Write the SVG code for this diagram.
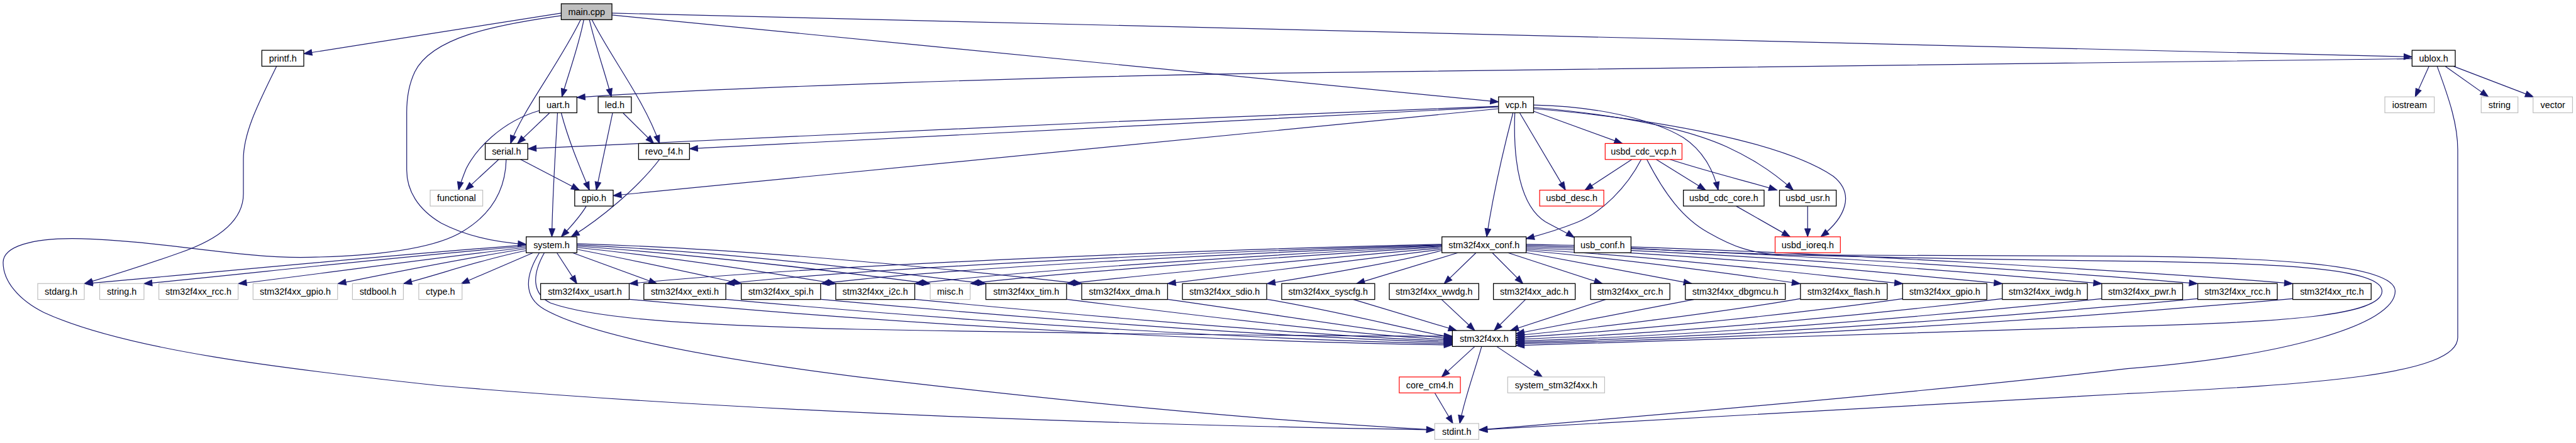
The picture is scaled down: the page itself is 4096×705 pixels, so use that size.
<svg xmlns="http://www.w3.org/2000/svg" width="4096" height="705" viewBox="0 0 4096 705">
<defs>
<style>
.n rect{fill:#fff;stroke:#000;stroke-width:1.3}
.g rect{stroke:#bfbfbf;stroke-width:1.2}
.r rect{stroke:#ff0000;stroke-width:1.2}
.m rect{fill:#bfbfbf}
.n text{font-family:"Liberation Sans",Arial,sans-serif;font-size:14.5px;text-anchor:middle;fill:#000}
.e path{fill:none;stroke:#191970;stroke-width:1.2;marker-end:url(#a)}
</style>
<marker id="a" markerUnits="userSpaceOnUse" markerWidth="16" markerHeight="12" refX="13" refY="4.75" orient="auto" overflow="visible">
<path d="M0,0 L13,4.75 L0,9.5 z" fill="#191970" stroke="#191970" stroke-width="1"/>
</marker>
</defs>
<rect width="4096" height="705" fill="#fff"/>
<g transform="scale(0.9949,0.99436)">
<g id="edges" class="e">
<path d="M897,21 C780,40 600,67 485.5,86"/>
<path d="M897,25 C790,40 690,60 663,115 C652,138 650,160 650,180 L650,272 C650,305 668,335 705,357 C745,378 795,388 841,391"/>
<path d="M928,31.5 C895,100 833,180 816,229.7"/>
<path d="M933,31.5 C926,70 908,120 898,155"/>
<path d="M942,31.5 C952,75 968,120 977,155"/>
<path d="M946,31.5 C975,90 1030,160 1054,229.7"/>
<path d="M978,24 C1450,70 1950,120 2395,163"/>
<path d="M978,21 C2000,45 3000,70 3855,91"/>
<path d="M442,106 C416,160 389,210 389,255 L389,310 C389,355 345,385 286,405 C230,425 175,442 135,454"/>
<path d="M3855,94 L2040,117 C1700,122 1150,140 922,156"/>
<path d="M3882,106 L3860,155"/>
<path d="M3908,106 L3977,155"/>
<path d="M3921,106 L4049,155"/>
<path d="M3895,106 C3915,160 3928,200 3928,240 L3928,540 C3928,600 3700,615 3400,630 C3000,652 2600,676 2364,688"/>
<path d="M862,177 C800,195 760,240 745,270 C739,285 735,295 733,304.3"/>
<path d="M878,181 L827,229.7"/>
<path d="M891,181 C888,240 883,310 882,379"/>
<path d="M897,181 C910,230 930,275 942,304.3"/>
<path d="M979,181 L953,304.3"/>
<path d="M996,181 L1045,229.7"/>
<path d="M797,255.2 L744,304.3"/>
<path d="M832,255.2 L926,304.3"/>
<path d="M809,255.2 C808,300 790,340 740,370 C700,395 620,410 480,412 C380,412 250,385 130,382 C50,380 5,395 5,420 C5,450 30,480 70,500 C200,560 450,590 700,617 C1200,660 1800,680 2293,688"/>
<path d="M862,404.5 C840,440 835,475 870,495 C950,540 1150,575 1370,603 C1700,642 2000,672 2293,688"/>
<path d="M870,404.5 C850,440 850,470 880,485 C950,510 1100,520 1370,527 C1800,535 2100,538 2321,538"/>
<path d="M841,392 C600,410 300,440 135,454"/>
<path d="M841,394 C620,412 380,440 230,454"/>
<path d="M841,396 C700,412 500,440 381,454"/>
<path d="M841,398 C730,415 610,440 540,454"/>
<path d="M841,401 C770,415 700,440 645,454"/>
<path d="M852,404.5 L737,454"/>
<path d="M890,404.5 L922,454"/>
<path d="M915,404.5 L1050,454"/>
<path d="M922,399 C1030,420 1120,440 1185,454"/>
<path d="M922,396 C1100,415 1250,440 1336,454"/>
<path d="M922,394 C1150,410 1380,440 1487,454"/>
<path d="M922,392 C1200,405 1450,440 1576,454"/>
<path d="M922,390 C1250,400 1600,440 1729,454"/>
<path d="M2304,391 C1900,400 1300,425 1006,454"/>
<path d="M2304,392 C1950,402 1400,428 1160,454"/>
<path d="M2304,393 C2000,404 1500,430 1312,454"/>
<path d="M2304,394 C2050,406 1650,432 1462,454"/>
<path d="M2304,395 C2100,408 1700,435 1551,454"/>
<path d="M2304,397 C2150,410 1850,438 1705,454"/>
<path d="M2304,399 C2200,412 1980,440 1866,454"/>
<path d="M2304,401 C2240,418 2100,442 2025,454"/>
<path d="M2330,404.5 L2168,454"/>
<path d="M2359,404.5 L2308,454"/>
<path d="M2385,404.5 L2434,454"/>
<path d="M2410,404.5 L2561,454"/>
<path d="M2438,404 L2704,454"/>
<path d="M2439,401 C2600,415 2780,440 2877,454"/>
<path d="M2439,399 C2650,410 2900,440 3041,454"/>
<path d="M2439,397 C2700,405 3050,440 3200,454"/>
<path d="M2439,395 C2750,402 3200,440 3359,454"/>
<path d="M2439,393 C2800,400 3350,440 3512,454"/>
<path d="M2439,391 C2850,398 3500,440 3664,454"/>
<path d="M1006,479 C1500,525 2000,548 2321,552"/>
<path d="M1160,479 C1600,520 2050,545 2321,550"/>
<path d="M1312,479 C1700,515 2100,542 2321,548"/>
<path d="M1462,479 C1800,512 2150,540 2321,546"/>
<path d="M1705,479 C1950,510 2200,538 2321,544"/>
<path d="M1866,479 C2050,505 2230,535 2321,542"/>
<path d="M2025,479 C2150,500 2260,530 2321,540"/>
<path d="M2163,479.3 L2328,529"/>
<path d="M2304,479.3 L2357,529"/>
<path d="M2438,479.3 L2388,529"/>
<path d="M2566,479.3 L2414,529"/>
<path d="M2707,479.3 L2423,534"/>
<path d="M2877,478 C2750,500 2550,525 2423,537"/>
<path d="M3041,478 C2850,505 2600,530 2423,540"/>
<path d="M3200,478 C2950,508 2650,535 2423,543"/>
<path d="M3359,478 C3050,510 2700,538 2423,546"/>
<path d="M3512,478 C3150,512 2750,540 2423,548"/>
<path d="M3664,478 C3250,515 2800,542 2423,550"/>
<path d="M2607,397 C2700,403 2900,412 3400,418 C3650,421 3807,430 3807,466 C3807,505 3650,516 3400,522 C3000,532 2600,546 2423,553"/>
<path d="M2632,255.2 C2660,310 2690,350 2730,372 C2770,395 2800,406 2850,408 L3400,410 C3600,412 3828,420 3828,466 C3828,520 3650,570 3400,590 C3100,625 2700,660 2364,688"/>
<path d="M2395,170 C1900,188 1200,220 844,238"/>
<path d="M2395,171 C2000,190 1400,226 1102,238"/>
<path d="M2395,174 L980,313"/>
<path d="M2418,181 C2400,250 2385,320 2376,379"/>
<path d="M2421,181 C2418,260 2430,330 2470,355 C2490,366 2505,373 2516,380"/>
<path d="M2429,181 L2502,304.3"/>
<path d="M2451,178 L2593,229.7"/>
<path d="M2451,168 C2550,170 2640,190 2690,220 C2725,243 2740,278 2746,304.3"/>
<path d="M2451,172 C2600,185 2700,208 2760,235 C2810,258 2845,285 2866,304.3"/>
<path d="M2451,174 C2650,190 2850,228 2930,282 C2965,310 2950,348 2910,379"/>
<path d="M2608,255.2 L2533,304.3"/>
<path d="M2647,255.2 L2726,304.3"/>
<path d="M2669,255.2 C2740,278 2800,292 2840,304.3"/>
<path d="M2623,255.2 C2600,300 2560,340 2520,356 C2490,368 2462,376 2439,382"/>
<path d="M2775,330 L2861,379"/>
<path d="M2889,330 L2889,379"/>
<path d="M1054,255.2 C1020,300 960,350 913,379"/>
<path d="M937,330 C925,350 910,365 897,379"/>
<path d="M2357,554.5 L2304,603.3"/>
<path d="M2392,554.5 L2465,603.3"/>
<path d="M2368,554.5 C2355,600 2340,640 2333,677.8"/>
<path d="M2293,628.8 L2322,677.8"/>
</g>
<g id="n_main" class="n m"><rect x="897" y="6" width="81" height="25.5"/><text x="937.5" y="24">main.cpp</text></g>
<g id="n_printf" class="n"><rect x="418.5" y="80.5" width="67" height="25.5"/><text x="452" y="98.5">printf.h</text></g>
<g id="n_ublox" class="n"><rect x="3855" y="80.5" width="69" height="25.5"/><text x="3889.5" y="98.5">ublox.h</text></g>
<g id="n_uart" class="n"><rect x="862" y="155" width="60" height="25.5"/><text x="892" y="173">uart.h</text></g>
<g id="n_led" class="n"><rect x="956" y="155" width="53" height="25.5"/><text x="982.5" y="173">led.h</text></g>
<g id="n_vcp" class="n"><rect x="2395" y="155" width="56" height="25.5"/><text x="2423" y="173">vcp.h</text></g>
<g id="n_iostream" class="n g"><rect x="3811.5" y="155" width="79" height="25.5"/><text x="3851" y="173">iostream</text></g>
<g id="n_string" class="n g"><rect x="3965.5" y="155" width="58.7" height="25.5"/><text x="3994.8" y="173">string</text></g>
<g id="n_vector" class="n g"><rect x="4048.4" y="155" width="63" height="25.5"/><text x="4079.9" y="173">vector</text></g>
<g id="n_serial" class="n"><rect x="775.5" y="229.7" width="68" height="25.5"/><text x="809.5" y="247.7">serial.h</text></g>
<g id="n_revo" class="n"><rect x="1020.6" y="229.7" width="81.4" height="25.5"/><text x="1061.3" y="247.7">revo_f4.h</text></g>
<g id="n_cdcvcp" class="n r"><rect x="2565.4" y="229.7" width="122.8" height="25.5"/><text x="2626.8" y="247.7">usbd_cdc_vcp.h</text></g>
<g id="n_functional" class="n g"><rect x="687.5" y="304.3" width="84" height="25.5"/><text x="729.5" y="322.3">functional</text></g>
<g id="n_gpio" class="n"><rect x="918.5" y="304.3" width="61.5" height="25.5"/><text x="949.2" y="322.3">gpio.h</text></g>
<g id="n_desc" class="n r"><rect x="2460.7" y="304.3" width="102.5" height="25.5"/><text x="2512" y="322.3">usbd_desc.h</text></g>
<g id="n_cdccore" class="n"><rect x="2690.4" y="304.3" width="129" height="25.5"/><text x="2754.9" y="322.3">usbd_cdc_core.h</text></g>
<g id="n_usr" class="n"><rect x="2844" y="304.3" width="90.7" height="25.5"/><text x="2889.3" y="322.3">usbd_usr.h</text></g>
<g id="n_system" class="n"><rect x="841" y="379" width="81" height="25.5"/><text x="881.5" y="397">system.h</text></g>
<g id="n_conf" class="n"><rect x="2304.5" y="379" width="134.6" height="25.5"/><text x="2371.8" y="397">stm32f4xx_conf.h</text></g>
<g id="n_usbconf" class="n"><rect x="2516" y="379" width="90.7" height="25.5"/><text x="2561.3" y="397">usb_conf.h</text></g>
<g id="n_ioreq" class="n r"><rect x="2837" y="379" width="104.3" height="25.5"/><text x="2889.1" y="397">usbd_ioreq.h</text></g>
<g id="n_stdarg" class="n g"><rect x="60.3" y="453.8" width="74.4" height="25.5"/><text x="97.5" y="471.8">stdarg.h</text></g>
<g id="n_stringh" class="n g"><rect x="159.3" y="453.8" width="70.8" height="25.5"/><text x="194.7" y="471.8">string.h</text></g>
<g id="n_rcc_ext" class="n g"><rect x="253.9" y="453.8" width="126.7" height="25.5"/><text x="317.2" y="471.8">stm32f4xx_rcc.h</text></g>
<g id="n_gpio_ext" class="n g"><rect x="404.4" y="453.8" width="135.1" height="25.5"/><text x="472" y="471.8">stm32f4xx_gpio.h</text></g>
<g id="n_stdbool" class="n g"><rect x="563.3" y="453.8" width="81.4" height="25.5"/><text x="604" y="471.8">stdbool.h</text></g>
<g id="n_ctype" class="n g"><rect x="669.3" y="453.8" width="69.2" height="25.5"/><text x="703.9" y="471.8">ctype.h</text></g>
<g id="n_usart" class="n"><rect x="864" y="453.8" width="141.6" height="25.5"/><text x="934.8" y="471.8">stm32f4xx_usart.h</text></g>
<g id="n_exti" class="n"><rect x="1029" y="453.8" width="131" height="25.5"/><text x="1094.5" y="471.8">stm32f4xx_exti.h</text></g>
<g id="n_spi" class="n"><rect x="1184.7" y="453.8" width="126.8" height="25.5"/><text x="1248.1" y="471.8">stm32f4xx_spi.h</text></g>
<g id="n_i2c" class="n"><rect x="1335.7" y="453.8" width="126.3" height="25.5"/><text x="1398.8" y="471.8">stm32f4xx_i2c.h</text></g>
<g id="n_misc" class="n g"><rect x="1486.7" y="453.8" width="63.8" height="25.5"/><text x="1518.6" y="471.8">misc.h</text></g>
<g id="n_tim" class="n"><rect x="1575.6" y="453.8" width="129" height="25.5"/><text x="1640.1" y="471.8">stm32f4xx_tim.h</text></g>
<g id="n_dma" class="n"><rect x="1728.8" y="453.8" width="137.2" height="25.5"/><text x="1797.4" y="471.8">stm32f4xx_dma.h</text></g>
<g id="n_sdio" class="n"><rect x="1889.8" y="453.8" width="134.7" height="25.5"/><text x="1957.1" y="471.8">stm32f4xx_sdio.h</text></g>
<g id="n_syscfg" class="n"><rect x="2048.4" y="453.8" width="148.7" height="25.5"/><text x="2122.7" y="471.8">stm32f4xx_syscfg.h</text></g>
<g id="n_wwdg" class="n"><rect x="2220.4" y="453.8" width="143" height="25.5"/><text x="2291.9" y="471.8">stm32f4xx_wwdg.h</text></g>
<g id="n_adc" class="n"><rect x="2386.8" y="453.8" width="130.7" height="25.5"/><text x="2452.1" y="471.8">stm32f4xx_adc.h</text></g>
<g id="n_crc" class="n"><rect x="2542.1" y="453.8" width="126.7" height="25.5"/><text x="2605.4" y="471.8">stm32f4xx_crc.h</text></g>
<g id="n_dbgmcu" class="n"><rect x="2693.5" y="453.8" width="159.8" height="25.5"/><text x="2773.4" y="471.8">stm32f4xx_dbgmcu.h</text></g>
<g id="n_flash" class="n"><rect x="2877.5" y="453.8" width="138.7" height="25.5"/><text x="2946.8" y="471.8">stm32f4xx_flash.h</text></g>
<g id="n_gpio2" class="n"><rect x="3040.8" y="453.8" width="134.6" height="25.5"/><text x="3108.1" y="471.8">stm32f4xx_gpio.h</text></g>
<g id="n_iwdg" class="n"><rect x="3200.1" y="453.8" width="136" height="25.5"/><text x="3268.1" y="471.8">stm32f4xx_iwdg.h</text></g>
<g id="n_pwr" class="n"><rect x="3359" y="453.8" width="129.3" height="25.5"/><text x="3423.6" y="471.8">stm32f4xx_pwr.h</text></g>
<g id="n_rcc" class="n"><rect x="3512.5" y="453.8" width="127.1" height="25.5"/><text x="3576" y="471.8">stm32f4xx_rcc.h</text></g>
<g id="n_rtc" class="n"><rect x="3664.3" y="453.8" width="125.3" height="25.5"/><text x="3727" y="471.8">stm32f4xx_rtc.h</text></g>
<g id="n_stm32f4xx" class="n"><rect x="2321.2" y="529" width="101.6" height="25.5"/><text x="2372" y="547">stm32f4xx.h</text></g>
<g id="n_corecm4" class="n r"><rect x="2236.3" y="603.3" width="97.7" height="25.5"/><text x="2285.1" y="621.3">core_cm4.h</text></g>
<g id="n_sysstm" class="n g"><rect x="2409.6" y="603.3" width="154.9" height="25.5"/><text x="2487" y="621.3">system_stm32f4xx.h</text></g>
<g id="n_stdint" class="n g"><rect x="2293" y="677.8" width="70.4" height="25.5"/><text x="2328.2" y="695.8">stdint.h</text></g>
</g>
</svg>
